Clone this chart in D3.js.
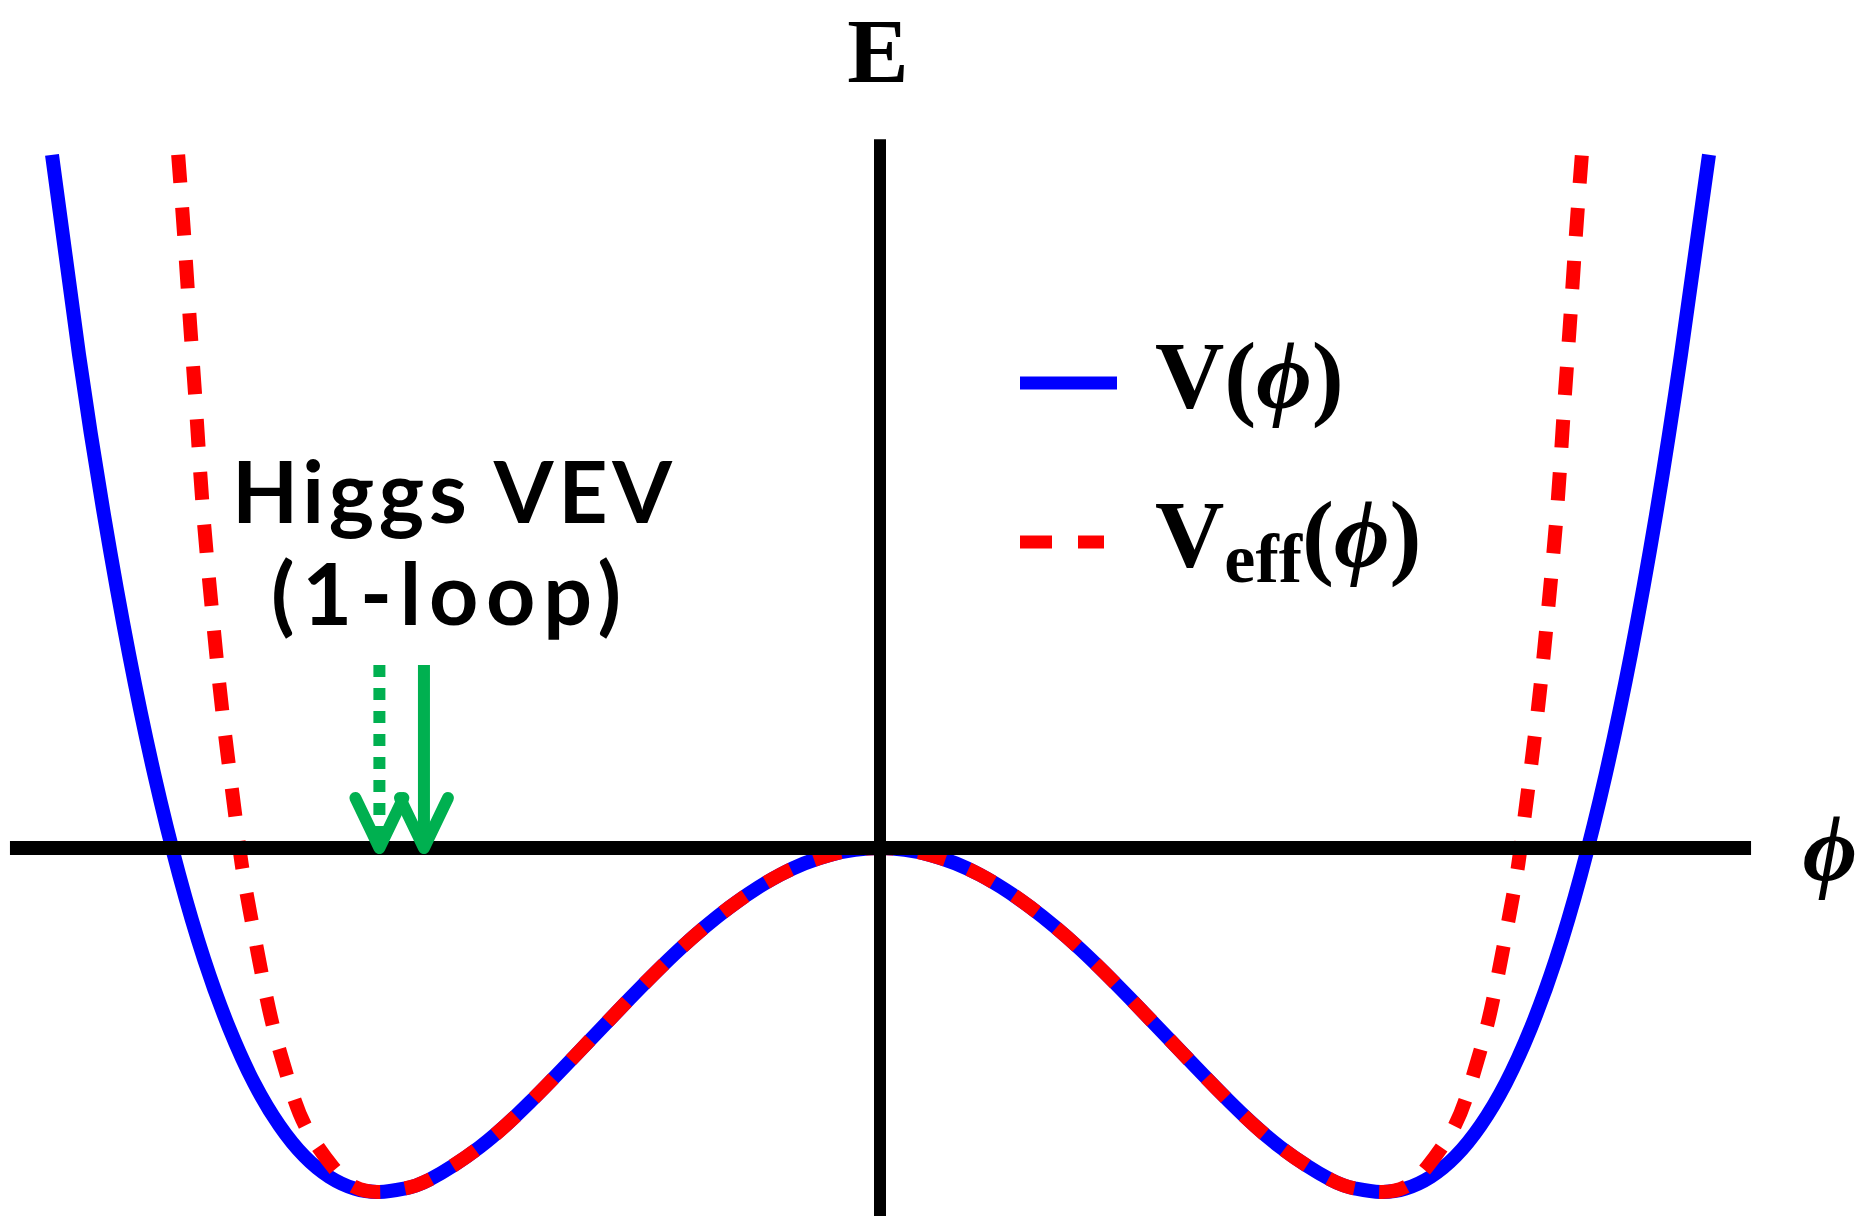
<!DOCTYPE html>
<html>
<head>
<meta charset="utf-8">
<script src="https://cdn.jsdelivr.net/npm/d3@7"></script>
<style>
  body { margin: 0; background: #fff; }
</style>
</head>
<body>
<svg width="1868" height="1216"></svg>
<script>
// phi in units of the tree-level VEV, E in units of the well depth
var phiV = [-1.654, -1.60, -1.55, -1.50, -1.45, -1.40, -1.35, -1.30, -1.25, -1.20, -1.15, -1.10, -1.05, -1.00, -0.95,
            -0.90, -0.80, -0.70, -0.60, -0.50, -0.40, -0.30, -0.20, -0.10, 0,
            0.10, 0.20, 0.30, 0.40, 0.50, 0.60, 0.70, 0.80, 0.90,
            0.95, 1.00, 1.05, 1.10, 1.15, 1.20, 1.25, 1.30, 1.35, 1.40, 1.45, 1.50, 1.55, 1.60, 1.656];
var eV   = [2.015, 1.434, 0.967, 0.563, 0.216, -0.078, -0.324, -0.524, -0.684, -0.806, -0.896, -0.956, -0.990, -1.000, -0.990,
            -0.964, -0.870, -0.740, -0.590, -0.438, -0.294, -0.172, -0.078, -0.020, 0,
            -0.020, -0.078, -0.172, -0.294, -0.438, -0.590, -0.740, -0.870, -0.964,
            -0.990, -1.000, -0.990, -0.956, -0.896, -0.806, -0.684, -0.524, -0.324, -0.078, 0.216, 0.563, 0.967, 1.434, 2.015];

var phiEff = [-1.402, -1.390, -1.378, -1.365, -1.352, -1.332, -1.312, -1.286, -1.272, -1.254, -1.235, -1.213,
              -1.185, -1.149, -1.093, -1.05, -1.00, -0.95,
              -0.90, -0.80, -0.70, -0.60, -0.50, -0.40, -0.30, -0.20, -0.10, 0,
              0.10, 0.20, 0.30, 0.40, 0.50, 0.60, 0.70, 0.80, 0.90,
              0.95, 1.00, 1.05, 1.093, 1.149, 1.185, 1.213, 1.235, 1.254, 1.272, 1.286, 1.312,
              1.332, 1.352, 1.365, 1.378, 1.390, 1.402];
var eEff   = [2.015, 1.78, 1.52, 1.25, 0.974, 0.654, 0.375, 0.073, -0.076, -0.221, -0.366, -0.515,
              -0.660, -0.805, -0.927, -0.985, -1.000, -0.990,
              -0.964, -0.870, -0.740, -0.590, -0.438, -0.294, -0.172, -0.078, -0.020, 0,
              -0.020, -0.078, -0.172, -0.294, -0.438, -0.590, -0.740, -0.870, -0.964,
              -0.990, -1.000, -0.985, -0.927, -0.805, -0.660, -0.515, -0.366, -0.221, -0.076, 0.073, 0.375,
              0.654, 0.974, 1.25, 1.52, 1.78, 2.015];

var vevTree = -1.00;   // dotted arrow
var vevLoop = -0.911;  // solid arrow
var arrowTop = 0.532;
var axisPhi = [-1.738, 1.740];
var axisE = [2.06, -1.08];
var annotation = ["Higgs VEV", "(1-loop)"];

var svg = d3.select("svg");
var x = d3.scaleLinear().domain([-1, 1]).range([379.4, 1380.6]);
var y = d3.scaleLinear().domain([-1, 0]).range([1192, 848]);

var line = d3.line()
    .x(function(d) { return x(d[0]); })
    .y(function(d) { return y(d[1]); })
    .curve(d3.curveNatural);

svg.append("rect").attr("width", 1868).attr("height", 1216).attr("fill", "#fff");

svg.append("path")
    .datum(d3.zip(phiV, eV))
    .attr("d", line)
    .attr("fill", "none")
    .attr("stroke", "#0000ff")
    .attr("stroke-width", 14);

svg.append("path")
    .datum(d3.zip(phiEff, eEff))
    .attr("d", line)
    .attr("fill", "none")
    .attr("stroke", "#ff0000")
    .attr("stroke-width", 14)
    .attr("stroke-dasharray", "28,25");

// axes
svg.append("line")
    .attr("x1", x(axisPhi[0])).attr("x2", x(axisPhi[1]))
    .attr("y1", y(0)).attr("y2", y(0))
    .attr("stroke", "#000").attr("stroke-width", 14);
svg.append("line")
    .attr("x1", x(0)).attr("x2", x(0))
    .attr("y1", y(axisE[0])).attr("y2", y(axisE[1]))
    .attr("stroke", "#000").attr("stroke-width", 12);

var serif = "'Times New Roman', 'Liberation Serif', serif";

svg.append("text")
    .attr("x", x(0) - 2).attr("y", 82)
    .attr("text-anchor", "middle")
    .style("font-family", serif).style("font-weight", "bold").style("font-size", "92px")
    .text("E");

svg.append("text")
    .attr("x", 1830).attr("y", 880)
    .attr("text-anchor", "middle")
    .style("font-family", serif).style("font-weight", "bold").style("font-style", "italic")
    .style("font-size", "94px")
    .text("\u03D5");

// legend
svg.append("line")
    .attr("x1", 1020).attr("x2", 1117).attr("y1", 383).attr("y2", 383)
    .attr("stroke", "#0000ff").attr("stroke-width", 13);
svg.append("line")
    .attr("x1", 1020).attr("x2", 1104).attr("y1", 542).attr("y2", 542)
    .attr("stroke", "#ff0000").attr("stroke-width", 13).attr("stroke-dasharray", "32,26");

var leg1 = svg.append("text").attr("x", 1155).attr("y", 408)
    .style("font-family", serif).style("font-weight", "bold").style("font-size", "96px");
leg1.append("tspan").text("V(");
leg1.append("tspan").style("font-style", "italic").text("\u03D5");
leg1.append("tspan").text(")");

var leg2 = svg.append("text").attr("x", 1155).attr("y", 567)
    .style("font-family", serif).style("font-weight", "bold").style("font-size", "96px");
leg2.append("tspan").text("V");
leg2.append("tspan").attr("dy", 15).style("font-size", "70px").text("eff");
leg2.append("tspan").attr("dy", -15).text("(");
leg2.append("tspan").style("font-style", "italic").text("\u03D5");
leg2.append("tspan").text(")");

// annotation
svg.selectAll("text.note")
    .data(annotation)
    .enter()
    .append("text")
    .attr("class", "note")
    .attr("x", function(d, i) { return i ? 446 : 452; })
    .attr("y", function(d, i) { return i ? 625 : 523; })
    .attr("text-anchor", "middle")
    .attr("textLength", function(d, i) { return i ? 350 : 440; })
    .attr("lengthAdjust", "spacing")
    .style("font-family", "'Comic Sans MS', Lato, sans-serif")
    .style("font-weight", "bold")
    .style("font-size", "86px")
    .text(function(d) { return d; });

// VEV arrows
var green = "#00b050";
svg.append("line")
    .attr("x1", x(vevTree)).attr("x2", x(vevTree))
    .attr("y1", y(arrowTop)).attr("y2", y(0) - 6)
    .attr("stroke", green).attr("stroke-width", 12).attr("stroke-dasharray", "12,11");
svg.append("line")
    .attr("x1", x(vevLoop)).attr("x2", x(vevLoop))
    .attr("y1", y(arrowTop)).attr("y2", y(0))
    .attr("stroke", green).attr("stroke-width", 12);

svg.selectAll("path.head")
    .data([vevTree, vevLoop])
    .enter()
    .append("path")
    .attr("class", "head")
    .attr("d", function(d) {
        var cx = x(d), cy = y(0);
        return "M" + (cx - 24) + "," + (cy - 50) + "L" + cx + "," + cy + "L" + (cx + 24) + "," + (cy - 50);
    })
    .attr("fill", "none")
    .attr("stroke", green)
    .attr("stroke-width", 12)
    .attr("stroke-linecap", "round")
    .attr("stroke-linejoin", "round");
</script>
</body>
</html>
